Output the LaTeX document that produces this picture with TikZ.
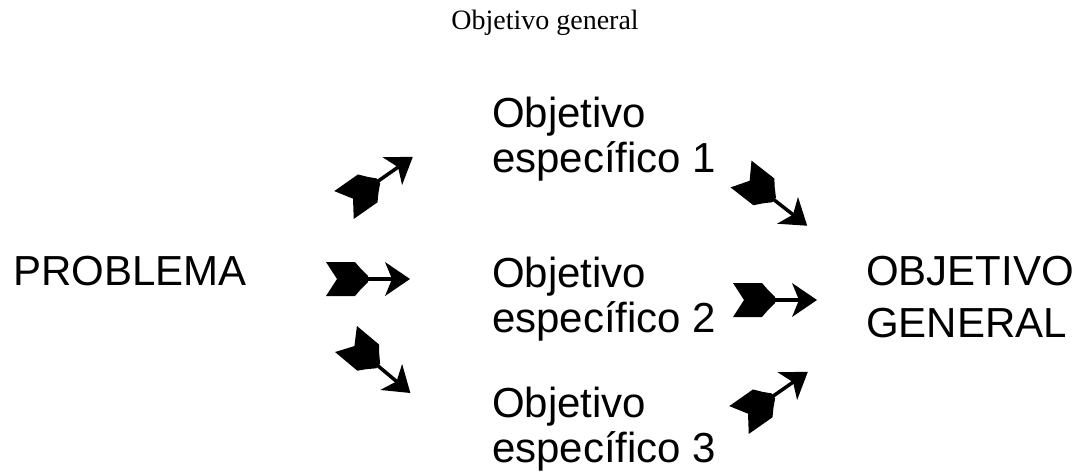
\documentclass[tikz,border=0pt]{standalone}
\usepackage{fontspec}
\setmainfont{Liberation Serif}
\setsansfont{Liberation Sans}
\tikzset{
  etiqueta/.style={font=\sffamily\fontsize{42}{45}\selectfont, inner sep=0pt, anchor=base west, align=left},
  meta/.style={font=\sffamily\fontsize{42}{52}\selectfont, inner sep=0pt, anchor=base west, align=left},
  flecha/.pic={
    % plumas
    \fill (0,17) -- (29,17) -- (35,10) -- (42,3) -- (42,-3) -- (35,-10) -- (29,-17) -- (0,-17) -- (11,0) -- cycle;
    % asta
    \draw[line width=3.5pt] (40,0) -- (68,0);
    % punta
    \fill (84,0) -- (59,17) -- (66,0) -- (59,-17) -- cycle;
  }
}
\begin{document}
\begin{tikzpicture}[x=1pt,y=-1pt] % del problema al objetivo general
		\useasboundingbox (0,0) rectangle (1091,474);
		% Titulo
		\node(titulo)[font=\fontsize{28}{30}\selectfont, inner sep=0pt, anchor=base] at (545,29) {Objetivo general};
		% Textos (la base es la de la ultima linea)
		\node(problema)[etiqueta] at (13,285) {PROBLEMA};
		\node(esp1)[etiqueta] at (492,172) {Objetivo\\espec\'ifico 1};
		\node(esp2)[etiqueta] at (492,332) {Objetivo\\espec\'ifico 2};
		\node(esp3)[etiqueta] at (492,462) {Objetivo\\espec\'ifico 3};
		\node(general)[meta] at (866,337) {OBJETIVO\\GENERAL};
		% Flechas del problema
		\coordinate (cola1) at (344,205);
		\coordinate (cola2) at (326,279);
		\coordinate (cola3) at (346,339);
		\pic[rotate=35] at (cola1) {flecha};
		\pic at (cola2) {flecha};
		\pic[rotate=-40] at (cola3) {flecha};
		% Flechas al objetivo general
		\coordinate (cola4) at (741,174);
		\coordinate (cola5) at (733,300);
		\coordinate (cola6) at (739,420);
		\pic[rotate=-38] at (cola4) {flecha};
		\pic at (cola5) {flecha};
		\pic[rotate=35] at (cola6) {flecha};
	\end{tikzpicture}
\end{document}
